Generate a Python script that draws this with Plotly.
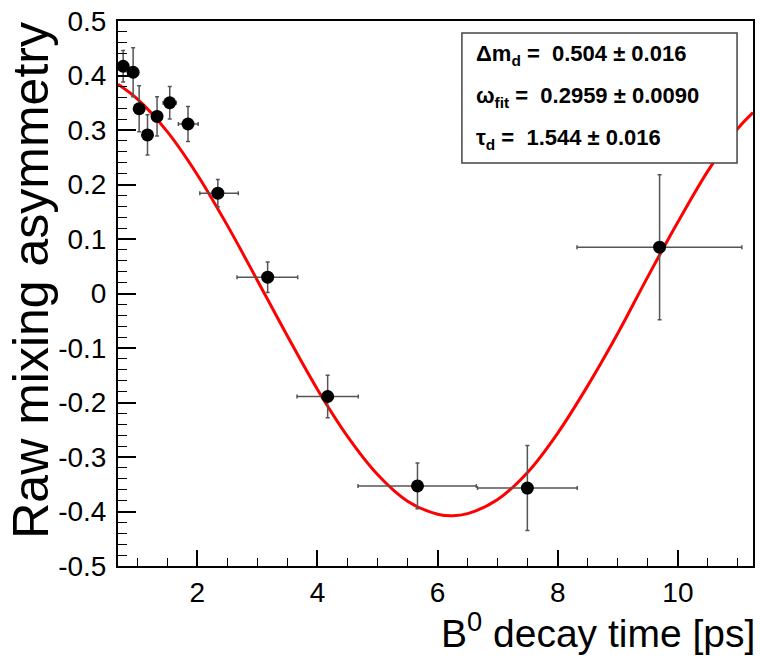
import plotly.graph_objects as go

# ---- data ----
t_vals = [0.766, 0.932, 1.032, 1.171, 1.330, 1.541, 1.845, 2.342, 3.171, 4.170, 5.665, 7.494, 9.695]
asym_vals = [0.417, 0.406, 0.339, 0.291, 0.325, 0.350, 0.311, 0.184, 0.030, -0.189, -0.353, -0.357, 0.085]
t_err_lo = [0.06, 0.05, 0.05, 0.06, 0.08, 0.11, 0.16, 0.30, 0.51, 0.51, 0.99, 0.83, 1.375]
t_err_hi = [0.06, 0.05, 0.05, 0.06, 0.08, 0.11, 0.17, 0.34, 0.50, 0.51, 0.98, 0.83, 1.37]
asym_err = [0.029, 0.045, 0.042, 0.037, 0.036, 0.030, 0.032, 0.025, 0.028, 0.039, 0.042, 0.078, 0.133]

# fit curve
fit_t = [0.68, 1.0, 1.5, 2.0, 2.5, 3.0, 3.5, 4.0, 4.5, 5.0, 5.5, 6.0, 6.25, 6.5, 7.0,
         7.5, 8.0, 8.5, 9.0, 9.5, 10.0, 10.5, 11.0, 11.25]
fit_a = [0.384, 0.357, 0.297, 0.218, 0.125, 0.024, -0.078, -0.176, -0.262, -0.332, -0.381,
         -0.405, -0.408, -0.404, -0.378, -0.328, -0.256, -0.169, -0.073, 0.031, 0.131,
         0.225, 0.303, 0.332]

x_tickvals = [2, 4, 6, 8, 10]
x_ticktext = ["2", "4", "6", "8", "10"]
y_tickvals = [0.5, 0.4, 0.3, 0.2, 0.1, 0.0, -0.1, -0.2, -0.3, -0.4, -0.5]
y_ticktext = ["0.5", "0.4", "0.3", "0.2", "0.1", "0", "-0.1", "-0.2", "-0.3", "-0.4", "-0.5"]

legend_lines = [
    "<b>\u0394m<sub>d</sub> =  0.504 \u00b1 0.016</b>",
    "<b>\u03c9<sub>fit</sub> =  0.2959 \u00b1 0.0090</b>",
    "<b>\u03c4<sub>d</sub> =  1.544 \u00b1 0.016</b>",
]
x_title = "B<sup>0</sup> decay time [ps]"
y_title = "Raw mixing asymmetry"

# ---- layout geometry (pixels) ----
W, H = 760, 661
L, R, T, B = 118, 5, 21, 95
PW, PH = W - L - R, H - T - B

def px(xp):
    return (xp - L) / PW

def py(yp):
    return (H - B - yp) / PH

FONT = "Liberation Sans, Arial, Helvetica, sans-serif"

fig = go.Figure()

fig.add_trace(go.Scatter(
    x=fit_t, y=fit_a, mode="lines", line=dict(color="#ff0000", width=3, shape="spline"),
    hoverinfo="skip", showlegend=False))

fig.add_trace(go.Scatter(
    x=t_vals, y=asym_vals, mode="markers",
    marker=dict(color="black", size=13),
    error_x=dict(type="data", symmetric=False, array=t_err_hi, arrayminus=t_err_lo,
                 color="#555555", thickness=1.5, width=2),
    error_y=dict(type="data", array=asym_err, color="#555555", thickness=1.5, width=2),
    showlegend=False))

fig.update_layout(
    width=W, height=H,
    margin=dict(l=L, r=R, t=T, b=B, pad=0),
    paper_bgcolor="white", plot_bgcolor="white",
    font=dict(family=FONT, color="black"),
    showlegend=False,
)

fig.update_xaxes(
    range=[0.68, 11.25], showgrid=False, zeroline=False,
    showline=True, linecolor="black", linewidth=2, mirror=True,
    ticks="inside", ticklen=16, tickwidth=1.5, tickcolor="black",
    tickmode="array", tickvals=x_tickvals, ticktext=x_ticktext,
    tickfont=dict(size=28, family=FONT, color="black"),
    ticklabelstandoff=0,
    minor=dict(dtick=0.5, tick0=0, ticks="inside", ticklen=8, tickwidth=1.2, tickcolor="black", showgrid=False),
)
fig.update_yaxes(
    range=[-0.5, 0.5], showgrid=False, zeroline=False,
    showline=True, linecolor="black", linewidth=2, mirror=True,
    ticks="inside", ticklen=18, tickwidth=1.5, tickcolor="black",
    tickmode="array", tickvals=y_tickvals, ticktext=y_ticktext,
    tickfont=dict(size=28, family=FONT, color="black"),
    ticklabelstandoff=4,
    minor=dict(dtick=0.02, tick0=0, ticks="inside", ticklen=9, tickwidth=1.2, tickcolor="black", showgrid=False),
)

# stats box
fig.add_shape(type="rect", xref="paper", yref="paper",
              x0=px(463), x1=px(739), y0=py(163), y1=py(33),
              line=dict(color="#444444", width=1.5), fillcolor="white", layer="above")
for i, (txt, yc) in enumerate(zip(legend_lines, [52, 94.5, 135.5])):
    fig.add_annotation(xref="paper", yref="paper", x=px(475), y=py(yc + 3),
                       text=txt, showarrow=False, xanchor="left", yanchor="middle",
                       font=dict(size=22, family=FONT, color="black"))

# axis titles
fig.add_annotation(xref="paper", yref="paper", x=px(759), y=py(630),
                   text=x_title, showarrow=False, xanchor="right", yanchor="middle",
                   font=dict(size=39, family=FONT, color="black"))
fig.add_annotation(xref="paper", yref="paper", x=px(30), y=py(20),
                   text=y_title, showarrow=False, textangle=-90,
                   xanchor="center", yanchor="top",
                   font=dict(size=50, family=FONT, color="black"))

fig.write_html("out.html",
               config={"displayModeBar": False},
               post_script="document.body.style.margin='0';document.body.style.padding='0';"
                           "document.body.style.overflow='hidden';")
